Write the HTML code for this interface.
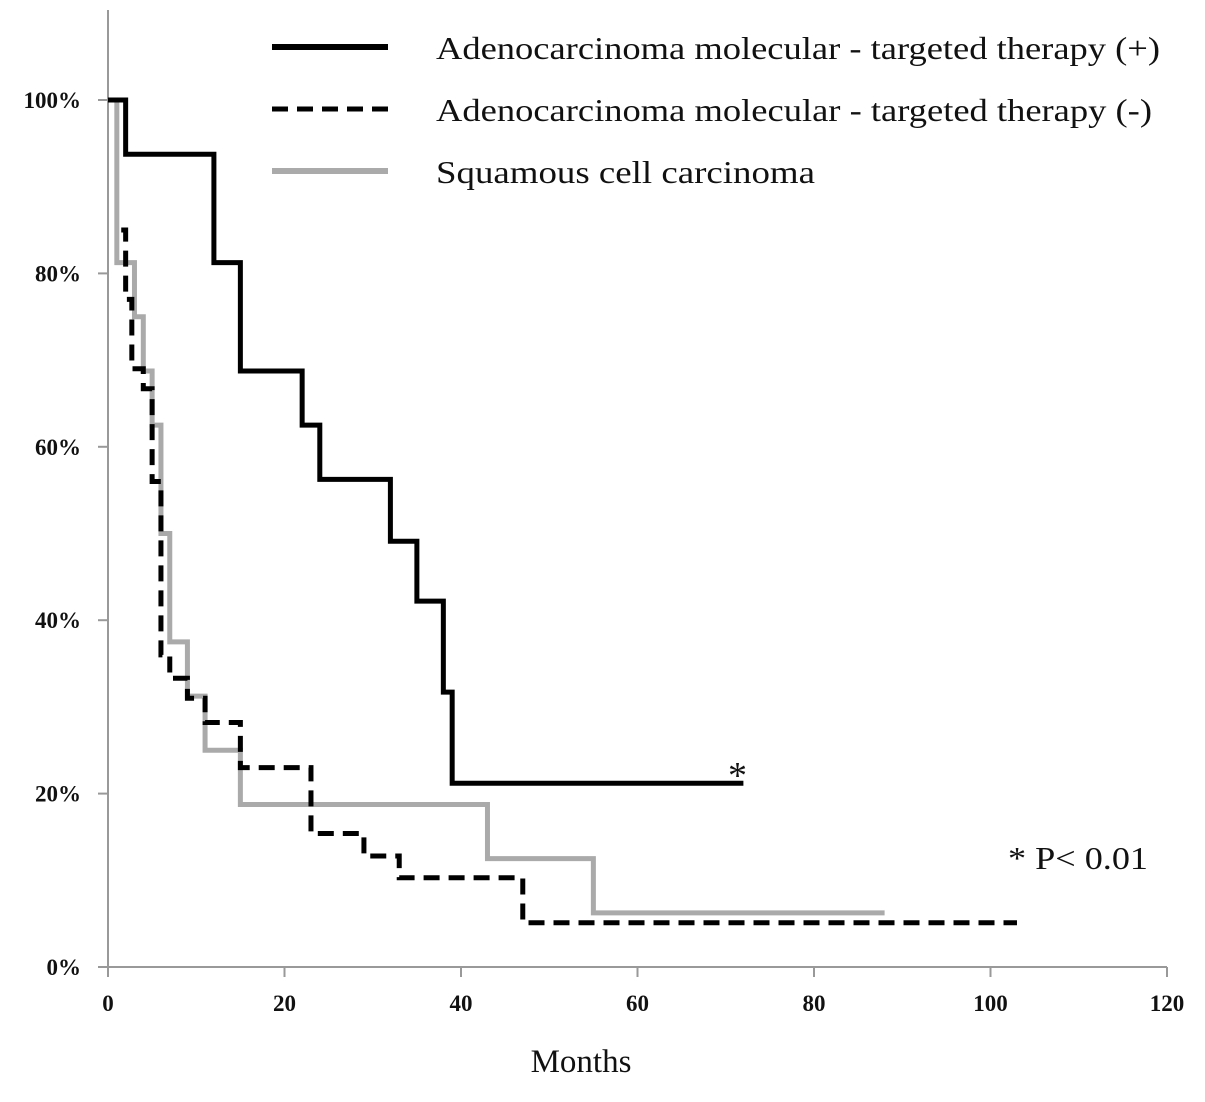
<!DOCTYPE html>
<html><head><meta charset="utf-8"><style>
body{margin:0;background:#fff}
text{font-family:"Liberation Serif",serif;fill:#111}
</style></head><body>
<svg id="c" width="1205" height="1097">
<g id="axes"></g><g id="series"></g>
<g>
<line x1="272" y1="47" x2="388" y2="47" stroke="#000" stroke-width="6"/>
<text x="436" y="59" font-size="32" textLength="724" lengthAdjust="spacingAndGlyphs">Adenocarcinoma molecular - targeted therapy (+)</text>
<line x1="272" y1="109" x2="388" y2="109" stroke="#000" stroke-width="5" stroke-dasharray="16,9"/>
<text x="436" y="121" font-size="32" textLength="716" lengthAdjust="spacingAndGlyphs">Adenocarcinoma molecular - targeted therapy (-)</text>
<line x1="272" y1="171" x2="388" y2="171" stroke="#aaa" stroke-width="6"/>
<text x="436" y="183" font-size="32" textLength="379" lengthAdjust="spacingAndGlyphs">Squamous cell carcinoma</text>
</g>
<text x="728" y="788" font-size="38">*</text>
<text x="1008" y="869" font-size="32" textLength="140" lengthAdjust="spacingAndGlyphs">* P&lt; 0.01</text>
<text x="581" y="1072" font-size="33" text-anchor="middle">Months</text>
</svg>
<script>
const xTicks=[0,20,40,60,80,100,120];
const yTicks=[0,20,40,60,80,100];
const plusTimes=[0,2,12,15,22,24,32,35,38,39];
const plusVals=[100,93.75,81.25,68.75,62.5,56.25,49.1,42.2,31.7,21.2];
const plusEnd=72;
const minusTimes=[1.5,2,2.7,4,5,6,7,9,11,15,23,29,33,47];
const minusVals=[85,77,69,66.7,56,36,33.3,31,28.2,23,15.4,12.8,10.3,5.1];
const minusEnd=103;
const sqTimes=[0,1,3,4,5,6,7,9,11,15,43,55];
const sqVals=[100,81.25,75,68.75,62.5,50,37.5,31.25,25,18.75,12.5,6.25];
const sqEnd=88;
const NS="http://www.w3.org/2000/svg";
const X=m=>108+m*(1167-108)/120;
const Y=v=>967-v*(967-100)/100;
const ax=document.getElementById('axes'),se=document.getElementById('series');
function mk(t,a,p){const e=document.createElementNS(NS,t);for(const k in a)e.setAttribute(k,a[k]);p.appendChild(e);return e;}
let e=mk('line',{x1:108,y1:10,x2:108,y2:967,stroke:'#999','stroke-width':2},ax);


e=mk('line',{x1:108,y1:967,x2:1167,y2:967,stroke:'#999','stroke-width':2},ax);


xTicks.forEach(t=>{
 let l=mk('line',{x1:X(t),y1:967,x2:X(t),y2:977,stroke:'#999','stroke-width':2},ax);
 
 
 let tx=mk('text',{x:X(t),y:1011,'font-size':23,'font-weight':'bold','text-anchor':'middle'},ax);tx.textContent=t;
 
 
});
yTicks.forEach(t=>{
 let l=mk('line',{x1:98,y1:Y(t),x2:108,y2:Y(t),stroke:'#999','stroke-width':2},ax);
 
 
 let tx=mk('text',{x:81,y:Y(t)+8,'font-size':23,'font-weight':'bold','text-anchor':'end'},ax);tx.textContent=t+'%';
 
 
});
function step(ts,vs,end){let d='M'+X(ts[0])+','+Y(vs[0]);
 for(let i=1;i<ts.length;i++){d+=' L'+X(ts[i])+','+Y(vs[i-1])+' L'+X(ts[i])+','+Y(vs[i]);}
 return d+' L'+X(end)+','+Y(vs[vs.length-1]);}
e=mk('path',{d:step(sqTimes,sqVals,sqEnd),fill:'none',stroke:'#aaa','stroke-width':5},se);


e=mk('path',{d:step(minusTimes,minusVals,minusEnd),fill:'none',stroke:'#000','stroke-width':5,'stroke-dasharray':'16,9'},se);


e=mk('path',{d:step(plusTimes,plusVals,plusEnd),fill:'none',stroke:'#000','stroke-width':5},se);


</script>
</body></html>
